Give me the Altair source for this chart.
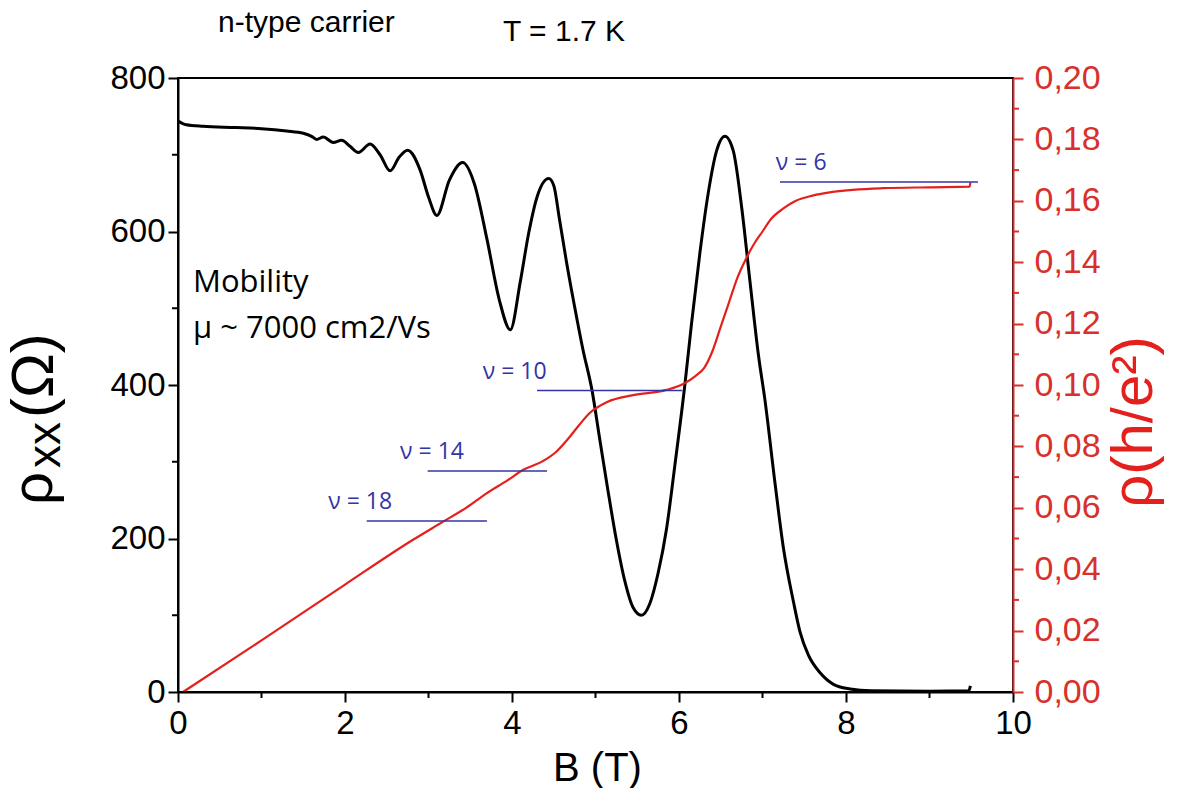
import altair as alt
import pandas as pd

# ---- data ----
B_xx = [0.00, 0.05, 0.10, 0.30, 0.70, 1.00, 1.30, 1.50, 1.60, 1.66, 1.74, 1.86, 1.96, 2.06, 2.16,
        2.30, 2.42, 2.54, 2.65, 2.75, 2.90, 3.00, 3.10, 3.25, 3.41, 3.55, 3.70, 3.85, 3.98, 4.10,
        4.20, 4.30, 4.44, 4.50, 4.57, 4.65, 4.75, 4.85, 4.96, 5.05, 5.15, 5.25, 5.35, 5.45, 5.55,
        5.65, 5.75, 5.85, 5.95, 6.07, 6.15, 6.25, 6.35, 6.45, 6.55, 6.65, 6.75, 6.85, 6.95, 7.03,
        7.15, 7.25, 7.37, 7.45, 7.55, 7.69, 7.85, 8.05, 8.30, 9.00, 9.47, 9.49]
rho_xx = [744, 741, 739, 737, 735.5, 734, 731, 728, 724, 720, 723, 716, 719, 711, 703,
          714, 700, 679, 697, 706, 680, 645, 621, 667, 690, 662, 590, 510, 472, 535,
          598, 645, 669, 660, 615, 562, 502, 446, 392, 330, 262, 198, 145, 110, 100,
          115, 155, 212, 295, 400, 480, 572, 650, 705, 724, 705, 632, 535, 440, 380,
          272, 188, 118, 78, 48, 25, 10, 4, 1.5, 1, 1.5, 8]

B_h = [0.06, 1.00, 2.00, 2.81, 3.17, 3.45, 3.70, 3.95, 4.13, 4.37, 4.52, 4.66, 4.80, 4.93, 5.05,
       5.14, 5.45, 5.85, 6.05, 6.20, 6.30, 6.40, 6.50, 6.60, 6.70, 6.80, 6.90, 7.00, 7.10, 7.25,
       7.40, 7.60, 7.84, 8.44, 9.00, 9.48, 9.49]
rho_h = [0.0, 0.0168, 0.0350, 0.0495, 0.0554, 0.0600, 0.0648, 0.0690, 0.0723, 0.0752, 0.0780,
         0.0821, 0.0868, 0.0909, 0.0932, 0.0945, 0.0967, 0.0984, 0.1003, 0.1030, 0.1055, 0.1110,
         0.1190, 0.1270, 0.1350, 0.1410, 0.1460, 0.1500, 0.1540, 0.1575, 0.1600, 0.1617, 0.1629,
         0.1641, 0.1644, 0.1646, 0.1660]

nu_labels = ["ν = 18", "ν = 14", "ν = 10", "ν = 6"]
nu_level = [0.0557, 0.0720, 0.0982, 0.1661]
nu_B_start = [2.26, 2.99, 4.30, 7.21]
nu_B_end = [3.70, 4.42, 6.04, 9.58]
nu_text_B = [1.80, 2.66, 3.65, 7.16]

x_ticks = [0, 2, 4, 6, 8, 10]
x_minor = [1, 3, 5, 7, 9]
yL_ticks = [0, 200, 400, 600, 800]
yL_minor = [100, 300, 500, 700]
yR_ticks = [0.00, 0.02, 0.04, 0.06, 0.08, 0.10, 0.12, 0.14, 0.16, 0.18, 0.20]
yR_minor = [0.01, 0.03, 0.05, 0.07, 0.09, 0.11, 0.13, 0.15, 0.17, 0.19]

W, H = 835, 614
RED = "#e3201c"
RED_AX = "#d8312c"
BLUE = "#3434a4"
FONT = "Liberation Sans"
FONT2 = "Open Sans"

xs = alt.Scale(domain=[0, 10], nice=False, zero=False)
yLs = alt.Scale(domain=[0, 800], nice=False)
yRs = alt.Scale(domain=[0, 0.2], nice=False)

x_axis = alt.Axis(values=x_ticks, title="B (T)", tickSize=10, tickWidth=2, tickColor="black",
                  domainColor="black", domainWidth=2, labelFont=FONT, labelFontSize=33,
                  labelColor="black", labelPadding=5, labelFlush=False, labelOverlap=False,
                  grid=False, titleFont=FONT, titleFontSize=40, titleFontWeight="normal",
                  titleColor="black", titleX=419, titleY=88, titleAlign="center",
                  titleBaseline="alphabetic", zindex=1)
yL_axis = alt.Axis(values=yL_ticks, orient="left", title="", tickSize=10, tickWidth=2,
                   tickColor="black", domainColor="black", domainWidth=2, labelFont=FONT,
                   labelFontSize=33, labelColor="black", labelPadding=3, labelOverlap=False,
                   grid=False, zindex=1)
yR_axis = alt.Axis(values=yR_ticks, orient="right", title="", tickSize=10, tickWidth=2,
                   tickColor=RED_AX, domainColor=RED_AX, domainWidth=2, labelFont=FONT,
                   labelFontSize=34, labelColor=RED_AX, labelPadding=11, labelOverlap=False,
                   labelExpr="replace(format(datum.value, '.2f'), '.', ',')",
                   grid=False, zindex=1)

df_xx = pd.DataFrame({"B": B_xx, "rho": rho_xx})
df_h = pd.DataFrame({"B": B_h, "r": rho_h})
df_nu = pd.DataFrame({"label": nu_labels, "lvl": nu_level, "b0": nu_B_start,
                      "b1": nu_B_end, "tb": nu_text_B})

X = lambda f: alt.X(f, scale=xs, axis=x_axis)
YL = lambda f: alt.Y(f, scale=yLs, axis=yL_axis)
YR = lambda f: alt.Y(f, scale=yRs, axis=yR_axis)

black = alt.Chart(df_xx).mark_line(color="black", strokeWidth=3, interpolate="monotone").encode(
    x=X("B:Q"), y=YL("rho:Q"))
minor_x = alt.Chart(pd.DataFrame({"m": x_minor})).mark_rule(color="black", strokeWidth=2).encode(
    x=X("m:Q"), y=alt.value(H), y2=alt.value(H + 6))
minor_yl = alt.Chart(pd.DataFrame({"m": yL_minor})).mark_rule(color="black", strokeWidth=2).encode(
    y=YL("m:Q"), x=alt.value(0), x2=alt.value(-6))


def txt(s, x, y, size, font=FONT, color="black", angle=0, align="left"):
    return alt.Chart(pd.DataFrame({"t": [s]})).mark_text(
        font=font, fontSize=size, color=color, angle=angle, align=align,
        baseline="alphabetic").encode(text="t:N", x=alt.value(x), y=alt.value(y))


left_texts = [
    txt("n-type carrier", 40, -46, 30),
    txt("T = 1.7 K", 325, -37, 30),
    txt("Mobility", 15, 214, 31, font=FONT2),
    txt("μ ~ 7000 cm2/Vs", 15, 260, 31, font=FONT2),
    txt("ρ", -126, 427, 58, angle=270),
    txt("xx", -118, 390, 46, angle=270),
    txt("(Ω)", -125, 340, 60, angle=270),
    txt("ρ(h/e²)", 974, 344, 58, color=RED, angle=270, align="center"),
]

left = alt.layer(black, minor_x, minor_yl, *left_texts)

red = alt.Chart(df_h).mark_line(color=RED, strokeWidth=2.2, interpolate="monotone").encode(
    x=X("B:Q"), y=YR("r:Q"))
minor_yr = alt.Chart(pd.DataFrame({"m": yR_minor})).mark_rule(color=RED_AX, strokeWidth=2).encode(
    y=YR("m:Q"), x=alt.value(W), x2=alt.value(W + 6))
nu_rules = alt.Chart(df_nu).mark_rule(color=BLUE, strokeWidth=1.6).encode(
    x=X("b0:Q"), x2="b1:Q", y=YR("lvl:Q"))
nu_text = alt.Chart(df_nu).mark_text(font=FONT2, fontSize=23, color=BLUE, align="left",
                                     baseline="middle", dy=-19).encode(
    x=X("tb:Q"), y=YR("lvl:Q"), text="label:N")

right = alt.layer(red, minor_yr, nu_rules, nu_text)

chart = alt.layer(left, right).resolve_scale(y="independent").properties(
    width=W, height=H,
    autosize=alt.AutoSizeParams(type="none"),
    padding={"left": 178, "top": 78, "right": 166, "bottom": 96},
    background="white",
).configure_view(stroke="black", strokeWidth=2)

chart.save("out.html", embed_options={"renderer": "svg", "actions": False})
